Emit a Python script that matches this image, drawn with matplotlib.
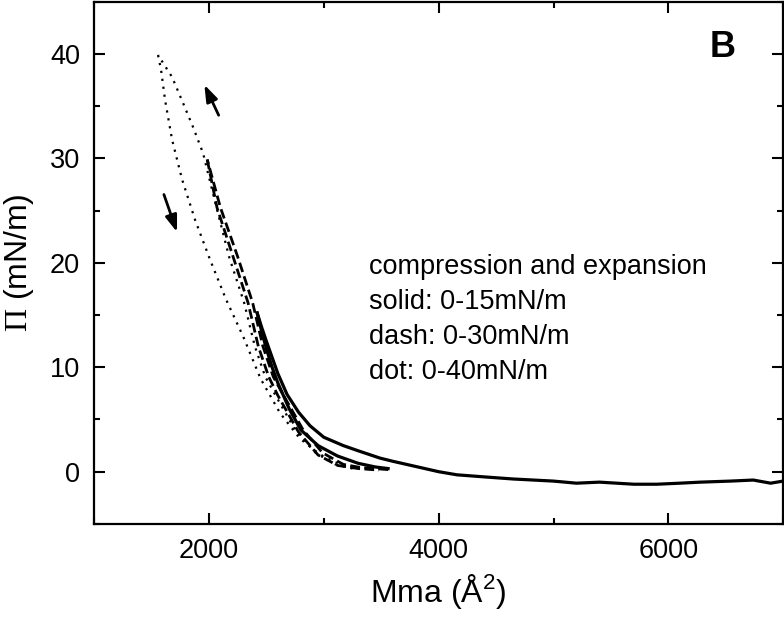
import matplotlib
matplotlib.use("Agg")
import matplotlib.pyplot as plt
from matplotlib.ticker import MultipleLocator

plt.rcParams["font.family"] = ["Liberation Sans", "DejaVu Sans"]
plt.rcParams["mathtext.fontset"] = "custom"
plt.rcParams["mathtext.rm"] = "Liberation Serif"
plt.rcParams["mathtext.sf"] = "Liberation Sans"

# solid: 0-15 mN/m, compression (long, from 7000) and expansion
solid_comp_x = [7000, 6890, 6740, 6540, 6280, 6100, 5900, 5700, 5400, 5200, 5000,
                4650, 4400, 4160, 4000, 3800, 3600, 3490, 3300, 3170, 3000,
                2880, 2780, 2680, 2600, 2500, 2460, 2420]
solid_comp_y = [-0.9, -1.1, -0.8, -0.9, -1.0, -1.1, -1.2, -1.2, -1.0, -1.1, -0.9,
                -0.7, -0.5, -0.3, 0.0, 0.5, 1.0, 1.3, 2.0, 2.5, 3.3,
                4.4, 5.7, 7.4, 9.4, 12.5, 13.8, 15.2]
solid_exp_x = [2420, 2460, 2500, 2550, 2600, 2700, 2800, 2950, 3120, 3300, 3450, 3560]
solid_exp_y = [15.2, 13.4, 11.8, 10.0, 8.5, 6.0, 4.0, 2.5, 1.5, 0.8, 0.45, 0.3]

# dash: 0-30 mN/m
dash_comp_x = [3560, 3320, 3170, 2990, 2820, 2640, 2560, 2470, 2380, 2250, 2100, 1985]
dash_comp_y = [0.2, 0.4, 0.7, 1.8, 4.0, 7.5, 9.1, 12.0, 16.2, 20.6, 25.3, 29.9]
dash_exp_x = [1985, 2070, 2210, 2340, 2430, 2520, 2600, 2780, 2950, 3120, 3300, 3480]
dash_exp_y = [29.9, 25.3, 20.6, 16.2, 12.0, 9.1, 7.3, 3.8, 1.6, 0.6, 0.3, 0.15]

# dot: 0-40 mN/m
dot_comp_x = [3250, 3100, 2930, 2750, 2570, 2490, 2400, 2306, 2175, 2050, 1949, 1862, 1775, 1679, 1557]
dot_comp_y = [0.3, 0.7, 1.8, 4.0, 7.5, 9.1, 12.0, 16.2, 20.6, 26.0, 30.5, 33.0, 35.3, 37.8, 39.9]
dot_exp_x = [1557, 1583, 1618, 1679, 1766, 1880, 2010, 2149, 2300, 2450, 2620, 2790, 2960, 3100, 3250]
dot_exp_y = [39.9, 38.5, 35.6, 31.8, 28.0, 24.1, 20.3, 16.5, 12.9, 8.9, 5.6, 3.2, 1.7, 0.9, 0.4]

legend_lines = ["compression and expansion", "solid: 0-15mN/m",
                "dash: 0-30mN/m", "dot: 0-40mN/m"]

fig = plt.figure(figsize=(7.84, 6.2), dpi=100)
ax = fig.add_axes([0.12, 0.155, 0.879, 0.842])

ax.plot(solid_comp_x, solid_comp_y, color="black", lw=2.3)
ax.plot(solid_exp_x, solid_exp_y, color="black", lw=2.3)
ax.plot(dash_comp_x, dash_comp_y, color="black", lw=2.0, linestyle=(0, (3.5, 1.6)))
ax.plot(dash_exp_x, dash_exp_y, color="black", lw=2.0, linestyle=(0, (3.5, 1.6)))
ax.plot(dot_comp_x, dot_comp_y, color="black", lw=1.6, linestyle=(0, (1, 2.6)))
ax.plot(dot_exp_x, dot_exp_y, color="black", lw=1.6, linestyle=(0, (1, 2.6)))

# direction arrows
arrow = dict(arrowstyle="-|>,head_length=1.0,head_width=0.35", color="black", lw=2.0)
ax.annotate("", xy=(1950, 37.3), xytext=(2095, 33.9), arrowprops=arrow)
ax.annotate("", xy=(1730, 22.7), xytext=(1600, 26.8), arrowprops=arrow)

ax.text(6470, 40.6, "B", fontsize=26, fontweight="bold", ha="center", va="center")
for i, line in enumerate(legend_lines):
    ax.text(3390, 19.6 - 3.35 * i, line, fontsize=19.5, ha="left", va="center")

ax.set_xlim(1000, 7000)
ax.set_ylim(-5, 45)
ax.xaxis.set_major_locator(MultipleLocator(2000))
ax.xaxis.set_minor_locator(MultipleLocator(1000))
ax.yaxis.set_major_locator(MultipleLocator(10))
ax.yaxis.set_minor_locator(MultipleLocator(5))
ax.tick_params(which="both", direction="in", top=True, right=True, width=1.5,
               labelsize=19.5, pad=10)
ax.tick_params(which="major", length=8)
ax.tick_params(which="minor", length=4)
for s in ax.spines.values():
    s.set_linewidth(1.6)

ax.set_xlabel(r"Mma (Å$^{\mathsf{2}}$)", fontsize=23, labelpad=6)
ax.set_ylabel(r"$\Pi$ (mN/m)", fontsize=23, labelpad=10)

fig.savefig("out.png", dpi=100)
